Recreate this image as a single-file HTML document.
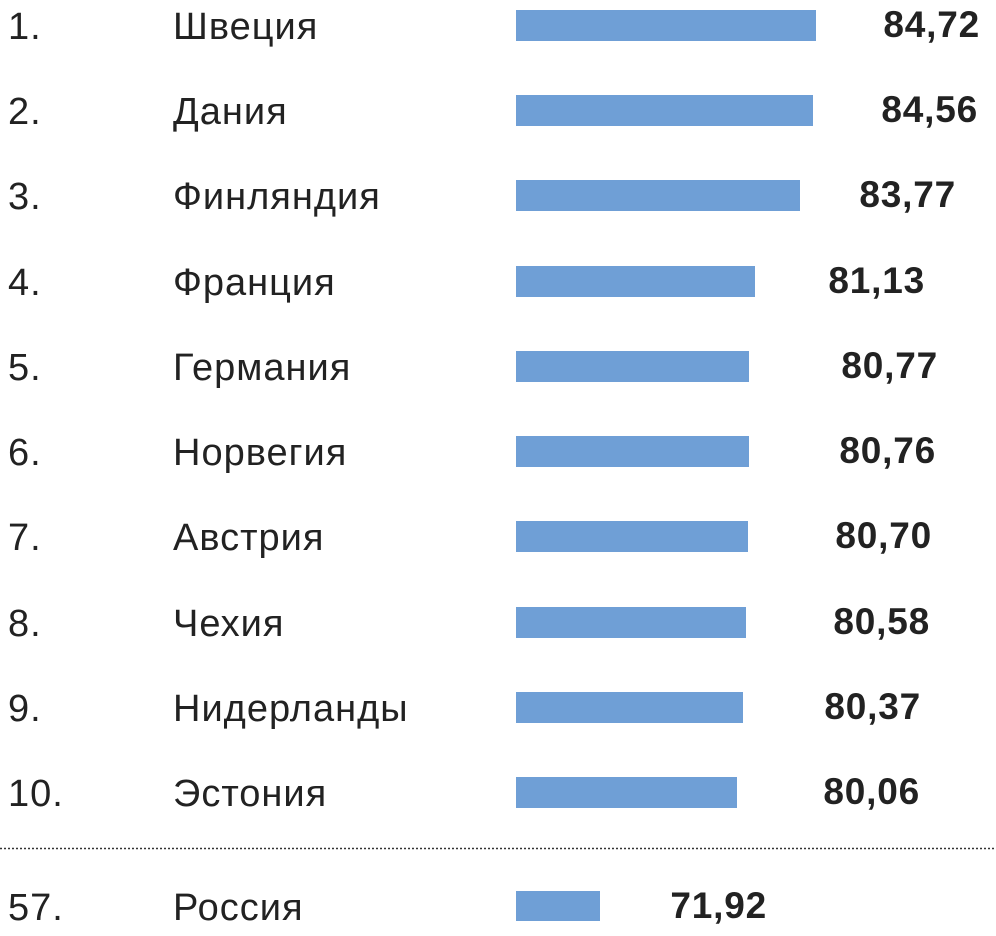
<!DOCTYPE html>
<html><head><meta charset="utf-8"><style>
html,body{margin:0;padding:0;background:#fff;}
svg{display:block;}
.l{font-family:"Liberation Sans","DejaVu Sans",sans-serif;font-size:38px;letter-spacing:1px;fill:#222;}
.v{font-family:"Liberation Sans","DejaVu Sans",sans-serif;font-size:37px;letter-spacing:0.8px;font-weight:bold;fill:#222;}
</style></head><body>
<svg width="996" height="936" viewBox="0 0 996 936" xmlns="http://www.w3.org/2000/svg">
<g fill="#6f9fd6">
<rect x="516" y="10" width="300" height="31"/>
<rect x="516" y="95" width="297" height="31"/>
<rect x="516" y="180" width="284" height="31"/>
<rect x="516" y="266" width="239" height="31"/>
<rect x="516" y="351" width="233" height="31"/>
<rect x="516" y="436" width="233" height="31"/>
<rect x="516" y="521" width="232" height="31"/>
<rect x="516" y="607" width="230" height="31"/>
<rect x="516" y="692" width="227" height="31"/>
<rect x="516" y="777" width="221" height="31"/>
<rect x="516" y="891" width="84" height="30"/>
</g>
<line x1="0" y1="848.5" x2="996" y2="848.5" stroke="#333" stroke-width="1.5" stroke-dasharray="2,2"/>
<g class="l">
<text x="8" y="39">1.</text><text x="173" y="39">Швеция</text>
<text x="8" y="124">2.</text><text x="173" y="124">Дания</text>
<text x="8" y="209">3.</text><text x="173" y="209">Финляндия</text>
<text x="8" y="295">4.</text><text x="173" y="295">Франция</text>
<text x="8" y="380">5.</text><text x="173" y="380">Германия</text>
<text x="8" y="465">6.</text><text x="173" y="465">Норвегия</text>
<text x="8" y="550">7.</text><text x="173" y="550">Австрия</text>
<text x="8" y="636">8.</text><text x="173" y="636">Чехия</text>
<text x="8" y="721">9.</text><text x="173" y="721">Нидерланды</text>
<text x="8" y="806">10.</text><text x="173" y="806">Эстония</text>
<text x="8" y="920">57.</text><text x="173" y="920">Россия</text>
</g>
<g class="v" text-anchor="end">
<text x="980" y="37">84,72</text>
<text x="978" y="122">84,56</text>
<text x="956" y="207">83,77</text>
<text x="925" y="293">81,13</text>
<text x="938" y="378">80,77</text>
<text x="936" y="463">80,76</text>
<text x="932" y="548">80,70</text>
<text x="930" y="634">80,58</text>
<text x="921" y="719">80,37</text>
<text x="920" y="804">80,06</text>
<text x="767" y="918">71,92</text>
</g>
</svg>
</body></html>
